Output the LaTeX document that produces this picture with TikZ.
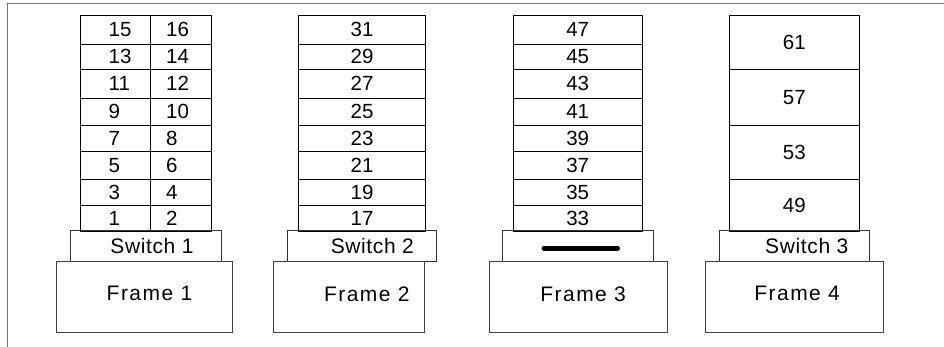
\documentclass[tikz,border=0pt]{standalone}
\usepackage{fontspec}
\setmainfont{Liberation Sans}
\begin{document}
\begin{tikzpicture}[x=1pt,y=-1pt,
  cell/.style={draw=black, line width=0.9pt, rectangle, inner sep=0pt},
  num/.style={inner sep=0pt, font=\fontsize{20.5}{24}\selectfont},
  cnum/.style={cell, font=\fontsize{20.5}{24}\selectfont},
  switchbox/.style={draw=black!80, line width=1pt, rectangle, inner sep=0pt,
    minimum height=30.7pt, font=\fontsize{21}{25}\selectfont\addfontfeature{LetterSpace=3}},
  framebox/.style={draw=black!75, line width=1pt, rectangle, inner sep=0pt,
    minimum height=71pt, text depth=7pt, font=\fontsize{21}{25}\selectfont\addfontfeature{LetterSpace=7}},
  outer/.style={draw=black!55, line width=1.4pt},
  bar/.style={line width=4.5pt, line cap=round}
]
\useasboundingbox (0,0) rectangle (944,347);
% outer lines
\coordinate (tl) at (7.5,3.5);
\coordinate (tr) at (944,3.5);
\coordinate (bl) at (7.5,347);
\draw[outer] (tr) -- (tl) -- (bl);

% Column 1
\foreach \a/\b/\ya/\yb in {15/16/15.7/44, 13/14/44/69.3, 11/12/69.3/98.3, 9/10/98.3/125,
  7/8/125/151.7, 5/6/151.7/179, 3/4/179/205.7, 1/2/205.7/231}{
  \node[cell, minimum width=70pt, minimum height={\yb-\ya}] (c\a) at (115.7,{(\ya+\yb)/2}) {};
  \node[cell, minimum width=60.3pt, minimum height={\yb-\ya}] (c\b) at (180.85,{(\ya+\yb)/2}) {};
  \node[num, anchor=west] (t\a) at (108.5,{(\ya+\yb)/2}) {\a};
  \node[num, anchor=west] (t\b) at (166,{(\ya+\yb)/2}) {\b};
}
% Column 2
\foreach \a/\ya/\yb in {31/15.7/44, 29/44/69.3, 27/69.3/98.3, 25/98.3/125,
  23/125/151.7, 21/151.7/179, 19/179/205.7, 17/205.7/231}{
  \node[cnum, minimum width=127.4pt, minimum height={\yb-\ya}] (c\a) at (362,{(\ya+\yb)/2}) {\a};
}
% Column 3
\foreach \a/\ya/\yb in {47/15.7/44, 45/44/69.3, 43/69.3/98.3, 41/98.3/125,
  39/125/151.7, 37/151.7/179, 35/179/205.7, 33/205.7/231}{
  \node[cnum, minimum width=129.3pt, minimum height={\yb-\ya}] (c\a) at (577.65,{(\ya+\yb)/2}) {\a};
}
% Column 4
\foreach \a/\ya/\yb in {61/15.7/69.3, 57/69.3/125, 53/125/179, 49/179/231}{
  \node[cnum, minimum width=130pt, minimum height={\yb-\ya}] (c\a) at (794.3,{(\ya+\yb)/2}) {\a};
}

% Switches
\node[switchbox, minimum width=150.6pt] (sw1) at (146,246.35) {\hspace*{12pt}Switch 1};
\node[switchbox, minimum width=148.3pt] (sw2) at (361.85,246.35) {\hspace*{21pt}Switch 2};
\node[switchbox, minimum width=150.6pt] (swblank) at (578,246.35) {};
\node[switchbox, minimum width=150pt] (sw3) at (794.3,246.35) {\hspace*{25pt}Switch 3};
\draw[bar] ([shift={(-34.2,2)}]swblank.center) -- ([shift={(39.7,2)}]swblank.center);

% Frames
\node[framebox, minimum width=175.6pt] (fr1) at (144.5,297.2) {\hspace*{10pt}Frame 1};
\node[framebox, minimum width=151pt] (fr2) at (348.8,297.2) {\hspace*{36pt}Frame 2};
\node[framebox, minimum width=178.3pt] (fr3) at (578.15,297.2) {\hspace*{10pt}Frame 3};
\node[framebox, minimum width=178.3pt] (fr4) at (794.15,297.2) {\hspace*{6pt}Frame 4};
\end{tikzpicture}
\end{document}
